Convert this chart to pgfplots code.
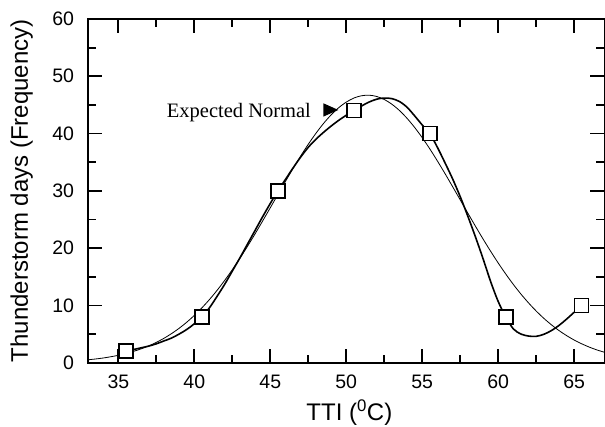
\documentclass[border=0pt]{standalone}
\usepackage{pgfplots}
\pgfplotsset{compat=1.18}
\usepackage{fontspec}
\setmainfont{Liberation Sans}
\newfontfamily\seriffont{Liberation Serif}

\pgfplotstableread{
x y
35.5 2
40.5 8
45.5 30
50.5 44
55.5 40
60.5 8
65.5 10
}\observed

\begin{document}
\begin{tikzpicture}
\begin{axis}[
  scale only axis,
  width=516.5pt, height=343.7pt,
  xmin=33, xmax=67, ymin=0, ymax=60,
  xtick={35,40,...,65}, ytick={0,10,...,60},
  minor x tick num=1, minor y tick num=1,
  tick align=inside,
  major tick length=14pt, minor tick length=8pt,
  every tick/.style={black, line width=1.8pt},
  axis line style={line width=2pt},
  /pgf/number format/assume math mode=true,
  tick label style={font=\fontsize{19.5}{21}\selectfont},
  xticklabel style={yshift=-9pt},
  yticklabel style={xshift=-10.5pt},
  label style={font=\fontsize{24}{26}\selectfont},
  xlabel={TTI (\textsuperscript{0}C)},
  ylabel={Thunderstorm days (Frequency)},
  xlabel style={at={(axis description cs:0.506,-0.1696)}, anchor=base, inner sep=0pt},
  ylabel style={at={(axis description cs:-0.1162,0.5)}, anchor=base, inner sep=0pt},
]
% expected normal
\addplot[black, line width=0.8pt, smooth] coordinates {
(33,0.51) (33.5,0.65) (34,0.82) (34.5,1.04) (35,1.29) (35.5,1.60) (36,1.98)
(36.5,2.42) (37,2.94) (37.5,3.55) (38,4.26) (38.5,5.08) (39,6.01) (39.5,7.07)
(40,8.26) (40.5,9.58) (41,11.04) (41.5,12.64) (42,14.38) (42.5,16.24) (43,18.23)
(43.5,20.32) (44,22.50) (44.5,24.76) (45,27.05) (45.5,29.36) (46,31.66) (46.5,33.91)
(47,36.08) (47.5,38.13) (48,40.03) (48.5,41.75) (49,43.25) (49.5,44.51) (50,45.49)
(50.5,46.20) (51,46.60) (51.5,46.70) (52,46.48) (52.5,45.95) (53,45.13) (53.5,44.03)
(54,42.67) (54.5,41.08) (55,39.29) (55.5,37.33) (56,35.22) (56.5,33.02) (57,30.74)
(57.5,28.44) (58,26.13) (58.5,23.85) (59,21.62) (59.5,19.47) (60,17.42) (60.5,15.48)
(61,13.66) (61.5,11.98) (62,10.44) (62.5,9.03) (63,7.76) (63.5,6.63) (64,5.62)
(64.5,4.74) (65,3.96) (65.5,3.30) (66,2.72) (66.5,2.23) (67,1.82)
};
% observed, smoothed
\addplot[black, line width=1.6pt, smooth] coordinates {
(35.5,2.0) (36,2.3) (36.5,2.6) (37,2.9) (37.5,3.3) (38,3.8) (38.5,4.3) (39,5.0)
(39.5,5.8) (40,6.8) (40.5,8.0) (41,9.6) (41.5,11.6) (42,13.7) (42.5,16.0) (43,18.3)
(43.5,20.7) (44,23.1) (44.5,25.5) (45,27.8) (45.5,30.0) (46,32.0) (46.5,34.0)
(47,35.9) (47.5,37.6) (48,39.0) (48.5,40.2) (49,41.3) (49.5,42.3) (50,43.2)
(50.5,44.0) (51,44.8) (51.5,45.5) (52,46.0) (52.5,46.2) (53,46.1) (53.5,45.6)
(54,44.6) (54.5,43.1) (55,41.5) (55.5,40.0) (56,37.6) (56.5,34.9) (57,32.1)
(57.5,29.0) (58,25.6) (58.5,22.0) (59,18.2) (59.5,14.2) (60,10.7) (60.5,8.0)
(61,5.9) (61.5,5.0) (62,4.65) (62.5,4.6) (63,4.95) (63.5,5.6) (64,6.5)
(64.5,7.6) (65,8.8) (65.5,10.0)
};
\addplot[only marks, mark=square*, mark size=7pt,
  mark options={fill=white, draw=black, line width=1.5pt}] table[x=x, y=y] {\observed};
\node[anchor=base west, inner sep=0pt, font=\seriffont\fontsize{20.5}{22}\selectfont]
  at (axis cs:38.18,42.72) {Expected Normal};
\fill[black] (axis cs:48.49,45.29) -- (axis cs:49.48,44.12) -- (axis cs:48.49,42.95) -- cycle;
\end{axis}
\pgfresetboundingbox
\path ([shift={(-88pt,-63.3pt)}]current axis.south west) rectangle ([shift={(0.5pt,19pt)}]current axis.north east);
\end{tikzpicture}
\end{document}
